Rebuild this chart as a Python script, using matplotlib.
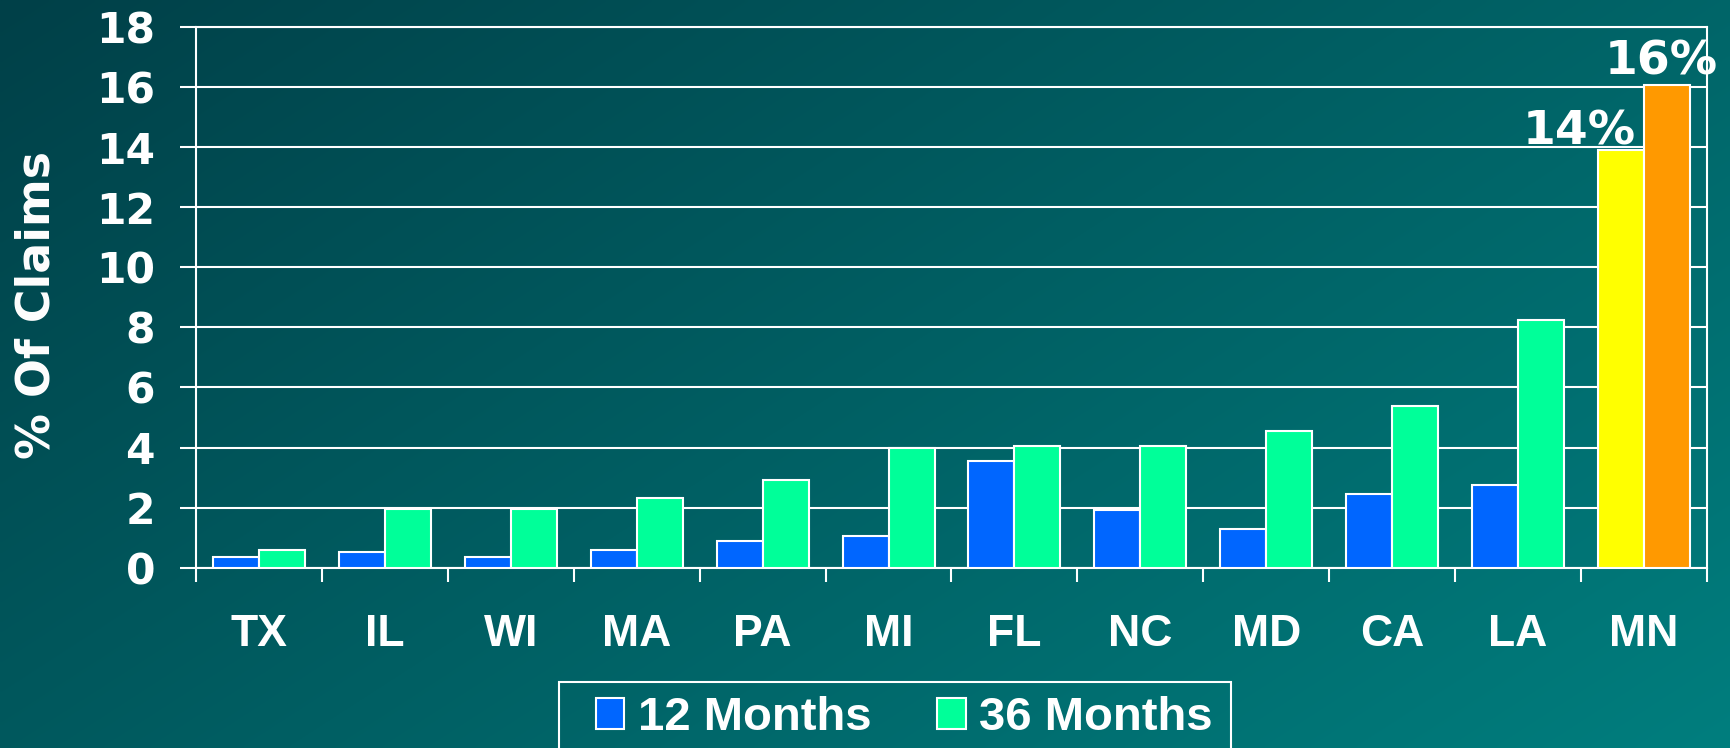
import matplotlib.pyplot as plt
import numpy as np
from matplotlib.patches import Patch, Rectangle

# data
states = ["TX", "IL", "WI", "MA", "PA", "MI", "FL", "NC", "MD", "CA", "LA", "MN"]
months_12 = [0.37, 0.52, 0.37, 0.58, 0.9, 1.07, 3.56, 1.93, 1.29, 2.46, 2.75, 13.9]
months_36 = [0.59, 1.97, 1.97, 2.32, 2.92, 4.0, 4.06, 4.06, 4.56, 5.38, 8.25, 16.07]
series_names = ["12 Months", "36 Months"]
highlight = {"MN": ("14%", "16%")}

blue = "#0066FF"
green = "#00FF99"
yellow = "#FFFF00"
orange = "#FF9900"

W, H = 1731, 748
fig = plt.figure(figsize=(W / 100, H / 100), dpi=100)

# diagonal teal gradient background
bg = fig.add_axes([0, 0, 1, 1], zorder=-10)
u = np.linspace(0, 1, 400)[None, :]
v = np.linspace(0, 1, 200)[:, None]
t = 0.6 * u + 0.4 * v
c0 = np.array([0, 64, 72]) / 255
c1 = np.array([0, 126, 126]) / 255
img = c0[None, None, :] + t[:, :, None] * (c1 - c0)[None, None, :]
bg.imshow(img, aspect="auto", extent=[0, 1, 0, 1], interpolation="bilinear")
bg.axis("off")

ax = fig.add_axes([196 / W, 1 - 567.7 / H, (1707 - 196) / W, (567.7 - 27) / H])
ax.patch.set_alpha(0)

n = len(states)
x = np.arange(n)
bw = 0.365

c12 = [yellow if s in highlight else blue for s in states]
c36 = [orange if s in highlight else green for s in states]

ax.bar(x - bw / 2, months_12, bw, color=c12, edgecolor="white", linewidth=1.5, zorder=3)
ax.bar(x + bw / 2, months_36, bw, color=c36, edgecolor="white", linewidth=1.5, zorder=3)

# percentage labels on the highlighted group
for i, s in enumerate(states):
    if s in highlight:
        lab12, lab36 = highlight[s]
        ax.annotate(lab12, (x[i] - bw / 2, months_12[i]), xytext=(-30, 4.3),
                    textcoords="offset points", ha="center", va="baseline",
                    fontsize=34, fontweight="bold", color="white",
                    family="DejaVu Sans", zorder=5, annotation_clip=False)
        ax.annotate(lab36, (x[i] + bw / 2, months_36[i]), xytext=(-4.3, 7.2),
                    textcoords="offset points", ha="center", va="baseline",
                    fontsize=34, fontweight="bold", color="white",
                    family="DejaVu Sans", zorder=5, annotation_clip=False)

ax.set_xlim(-0.5, n - 0.5)
ax.set_ylim(0, 18)
ax.set_yticks(np.arange(0, 19, 2))
ax.yaxis.grid(True, color="white", linewidth=1.5, zorder=0)
ax.set_axisbelow(True)

for side in ["left", "right", "bottom", "top"]:
    ax.spines[side].set_color("white")
    ax.spines[side].set_linewidth(1.5)

ax.set_xticks(x)
ax.set_xticklabels(states, fontsize=32, fontweight="bold", color="white",
                   family="Liberation Sans")
ax.tick_params(axis="x", which="major", length=0, pad=33)
ax.set_xticks(np.arange(n + 1) - 0.5, minor=True)
ax.tick_params(axis="x", which="minor", length=10, width=1.5, color="white",
               direction="out")

ax.tick_params(axis="y", length=11.5, width=1.5, color="white", direction="out",
               pad=18, labelsize=30.5, labelcolor="white")
for lbl in ax.get_yticklabels():
    lbl.set_fontweight("bold")
    lbl.set_family("DejaVu Sans")

fig.text(37 / W, 1 - 305 / H, "% Of Claims", rotation=90, ha="center", va="center",
         fontsize=33, fontweight="bold", color="white", family="DejaVu Sans")

# legend box runs off the bottom edge, so draw its frame by hand
fig.add_artist(Rectangle((559 / W, -0.05), (1231 - 559) / W, 0.05 + 1 - 682 / H,
                         transform=fig.transFigure, facecolor="none",
                         edgecolor="white", linewidth=1.5))

handles = [Patch(facecolor=blue, edgecolor="white", linewidth=1.5),
           Patch(facecolor=green, edgecolor="white", linewidth=1.5)]
leg = fig.legend(handles, series_names, loc="center left",
                 bbox_to_anchor=(596 / W, 1 - 718 / H), borderaxespad=0,
                 ncol=2, frameon=False, handlelength=0.6, handleheight=0.62,
                 handletextpad=0.28, columnspacing=1.4, borderpad=0,
                 prop={"family": "Liberation Sans", "weight": "bold", "size": 34})
for txt in leg.get_texts():
    txt.set_color("white")

fig.savefig("out.png", dpi=100)
